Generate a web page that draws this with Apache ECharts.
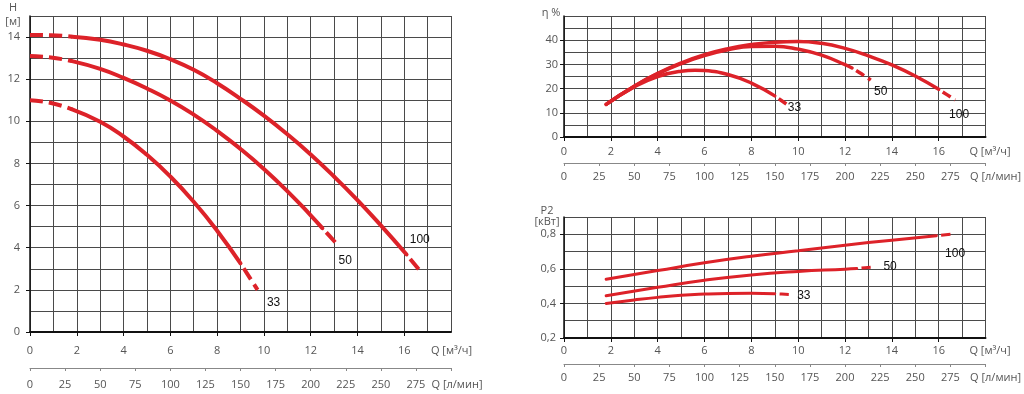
<!DOCTYPE html>
<html><head><meta charset="utf-8">
<script src="https://cdn.jsdelivr.net/npm/echarts@6/dist/echarts.min.js"></script>
<style>html,body{margin:0;padding:0;background:#fff}#c{width:1024px;height:394px}</style>
</head><body><div id="c"></div>
<script>
// ---------- data (Q in m³/h) ----------
// Head H [м]
const qH100 = [0, 0.9, 1.8, 3, 4, 5, 6, 7, 8, 9, 10, 11, 12, 13, 14, 15, 16.1, 16.75];
const h100  = [14.1, 14.09, 14.02, 13.87, 13.65, 13.35, 12.95, 12.45, 11.81, 11.07, 10.27, 9.39, 8.43, 7.38, 6.26, 5.06, 3.68, 2.8];
const qH50  = [0, 0.9, 1.8, 3, 4, 5, 6, 7, 8, 9, 10, 11, 12, 12.5, 13.05];
const h50   = [13.1, 13.03, 12.86, 12.49, 12.06, 11.56, 10.99, 10.32, 9.55, 8.69, 7.74, 6.69, 5.54, 4.93, 4.26];
const qH33  = [0, 0.9, 1.8, 3, 4, 5, 6, 7, 8, 9, 9.73];
const h33   = [11.0, 10.87, 10.57, 9.98, 9.28, 8.41, 7.38, 6.18, 4.81, 3.26, 2.0];
// Efficiency η [%]
const qE100 = [1.8, 3, 4, 5, 6, 7, 8, 9, 10, 11, 12, 13, 14, 15, 16, 16.7];
const e100  = [13.5, 21.0, 26.3, 30.6, 34.0, 36.5, 38.2, 39.2, 39.5, 38.7, 36.6, 33.5, 29.8, 25.2, 19.7, 15.3];
const qE50  = [1.8, 3, 4, 5, 6, 7, 8, 9, 10, 11, 12, 12.3, 12.7, 13.1];
const e50   = [13.5, 21.0, 26.1, 30.3, 33.6, 36.0, 37.4, 37.5, 36.3, 33.8, 29.9, 28.5, 26.1, 23.5];
const qE33  = [1.8, 3, 4, 5, 5.6, 6, 7, 8, 9, 9.5];
const e33   = [13.5, 20.7, 25.0, 27.2, 27.6, 27.45, 25.8, 22.3, 17.0, 13.6];
// Power P2 [кВт]
const qP100 = [1.8, 4, 6, 8, 10, 12, 14, 15.9, 16.7];
const p100  = [0.54, 0.59, 0.635, 0.673, 0.705, 0.737, 0.766, 0.792, 0.803];
const qP50  = [1.8, 4, 6, 8, 10, 12, 12.5, 13.2];
const p50   = [0.445, 0.493, 0.534, 0.565, 0.585, 0.598, 0.602, 0.61];
const qP33  = [1.8, 3, 4, 5, 6, 7, 8, 9, 9.6];
const p33   = [0.40, 0.42, 0.435, 0.447, 0.454, 0.458, 0.459, 0.456, 0.452];
// solid range [from, to] of each curve (outside is dashed)
const solidH100 = [1.8, 16.1], solidH50 = [1.8, 12.5], solidH33 = [1.8, 9];
const solidE100 = [1.8, 16], solidE50 = [1.8, 12.3], solidE33 = [1.8, 9];
const solidP100 = [1.8, 15.9], solidP50 = [1.8, 12.5], solidP33 = [1.8, 9];
// tick labels
const qLabels   = [0, 2, 4, 6, 8, 10, 12, 14, 16, 18];
const qTicks    = [0, 2, 4, 6, 8, 10, 12, 14, 16];
const hLabels   = [0, 2, 4, 6, 8, 10, 12, 14];
const etaLabels = [0, 10, 20, 30, 40];
const pLabels   = [0.2, 0.4, 0.6, 0.8];
const curveNames = ['100', '50', '33'];

const RED = '#dd2229';
const GRID_C = '#4a4a4a';
const LBL = {color: '#555', fontSize: 11, fontFamily: 'Open Sans'};

function gridX(gi) {
  return {type: 'value', gridIndex: gi, min: 0, max: 18, interval: 1, position: 'bottom',
    axisLine: {show: false}, axisTick: {show: false}, axisLabel: {show: false},
    splitLine: {show: true, lineStyle: {color: GRID_C, width: 1}}};
}
function gridY(gi, min, max, interval) {
  return {type: 'value', gridIndex: gi, min: min, max: max, interval: interval, position: 'left',
    axisLine: {show: false}, axisTick: {show: false}, axisLabel: {show: false},
    splitLine: {show: true, lineStyle: {color: GRID_C, width: 1}}};
}
function primaryX(gi, margin, padL) {
  return {type: 'value', gridIndex: gi, min: 0, max: 18, interval: 1, position: 'bottom',
    axisLine: {show: true, onZero: false, lineStyle: {color: '#111', width: 2}},
    axisTick: {show: true, customValues: qTicks, length: 4, lineStyle: {color: '#111'}},
    axisLabel: Object.assign({customValues: qLabels, margin: margin,
      formatter: v => v === 18 ? '{n|Q [м³/ч]}' : String(v),
      rich: {n: {color: '#555', fontSize: 11, fontFamily: 'Open Sans', padding: [0, 0, 0, padL]}}}, LBL),
    splitLine: {show: false}, z: 5};
}
function secondaryX(gi, offset, margin, padL) {
  return {type: 'value', gridIndex: gi, min: 0, max: 300, interval: 25, position: 'bottom', offset: offset,
    axisLine: {show: true, onZero: false, lineStyle: {color: '#888', width: 1}},
    axisTick: {show: true, length: 3, lineStyle: {color: '#888'}},
    axisLabel: Object.assign({margin: margin,
      formatter: v => v === 300 ? '{n|Q [л/мин]}' : String(v),
      rich: {n: {color: '#555', fontSize: 11, fontFamily: 'Open Sans', padding: [0, 0, 0, padL]}}}, LBL),
    splitLine: {show: false}};
}
function yAx(gi, min, max, interval, labels, fmt, margin, name, nameGap, pad, lh) {
  return {type: 'value', gridIndex: gi, min: min, max: max, interval: interval, position: 'left',
    name: name, nameLocation: 'end', nameGap: nameGap,
    nameTextStyle: {color: '#555', fontSize: 11, fontFamily: 'Open Sans', align: 'center',
      padding: [0, pad, 0, 0], lineHeight: lh},
    axisLine: {show: true, onZero: false, lineStyle: {color: '#111', width: 1.5}},
    axisTick: {show: true, customValues: labels, length: 4, lineStyle: {color: '#111'}},
    axisLabel: Object.assign({customValues: labels, margin: margin, formatter: fmt}, LBL),
    splitLine: {show: false}, z: 5};
}

const series = [];
function addCurve(xi, yi, qs, vs, solid, width, dash, label, lblOff) {
  const pts = qs.map((q, i) => [q, vs[i]]);
  const start = pts.filter(p => p[0] <= solid[0]);
  const mid = pts.filter(p => p[0] >= solid[0] && p[0] <= solid[1]);
  const end = pts.filter(p => p[0] >= solid[1]);
  const base = {type: 'line', xAxisIndex: xi, yAxisIndex: yi, symbol: 'none', smooth: 0.5,
    silent: true, animation: false, z: 10};
  if (start.length > 1) series.push(Object.assign({}, base, {data: start,
    lineStyle: {color: RED, width: width, type: dash, cap: 'butt'}}));
  series.push(Object.assign({}, base, {data: mid, lineStyle: {color: RED, width: width, cap: 'round'}}));
  series.push(Object.assign({}, base, {data: end,
    lineStyle: {color: RED, width: width, type: dash, dashOffset: dash[0], cap: 'butt'},
    endLabel: {show: true, formatter: label, distance: 0, align: 'center', verticalAlign: 'middle',
      offset: lblOff, color: '#111', fontSize: 12, fontFamily: 'Liberation Sans'}}));
}
// axis index layout: per grid g -> xAxis 3g primary, 3g+1 secondary, 3g+2 grid lines; yAxis 2g labels, 2g+1 grid lines
// H chart
addCurve(0, 0, qH100, h100, solidH100, 4, [13, 6], curveNames[0], [-2, -33]);
addCurve(0, 0, qH50,  h50,  solidH50,  4, [13, 6], curveNames[1], [10, 18]);
addCurve(0, 0, qH33,  h33,  solidH33,  4, [13, 6], curveNames[2], [16, 13]);
// η chart
addCurve(3, 2, qE100, e100, solidE100, 3.5, [9, 5], curveNames[0], [4, 15]);
addCurve(3, 2, qE50,  e50,  solidE50,  3.5, [9, 5], curveNames[1], [10, 12]);
addCurve(3, 2, qE33,  e33,  solidE33,  3.5, [9, 5], curveNames[2], [8, 4]);
// P2 chart
addCurve(6, 4, qP100, p100, solidP100, 3, [9, 5], curveNames[0], [0, 20]);
addCurve(6, 4, qP50,  p50,  solidP50,  3, [9, 5], curveNames[1], [17, 0]);
addCurve(6, 4, qP33,  p33,  solidP33,  3, [9, 5], curveNames[2], [15, 1]);

const chart = echarts.init(document.getElementById('c'), null, {renderer: 'canvas'});
chart.setOption({
  backgroundColor: '#fff',
  animation: false,
  grid: [
    {left: 30, right: 573, top: 16, bottom: 62, containLabel: false},
    {left: 564, right: 38, top: 16, bottom: 257, containLabel: false},
    {left: 564, right: 38, top: 217, bottom: 56, containLabel: false}
  ],
  xAxis: [
    primaryX(0, 13, 1), secondaryX(0, 36, 11, 12), gridX(0),
    primaryX(1, 9, 9), secondaryX(1, 26, 8, 20), gridX(1),
    primaryX(2, 7, 9), secondaryX(2, 26, 8, 20), gridX(2)
  ],
  yAxis: [
    yAx(0, 0, 15, 1, hLabels, v => String(v), 10, 'H\n[м]', -13, 34, 14), gridY(0, 0, 15, 1),
    yAx(1, 0, 50, 5, etaLabels, v => String(v), 6, 'η %', -3, 26, 12), gridY(1, 0, 50, 5),
    yAx(2, 0.2, 0.9, 0.1, pLabels, v => v.toFixed(1).replace('.', ','), 8, 'P2\n[кВт]', -10, 34, 11), gridY(2, 0.2, 0.9, 0.1)
  ],
  series: series
});
</script></body></html>
